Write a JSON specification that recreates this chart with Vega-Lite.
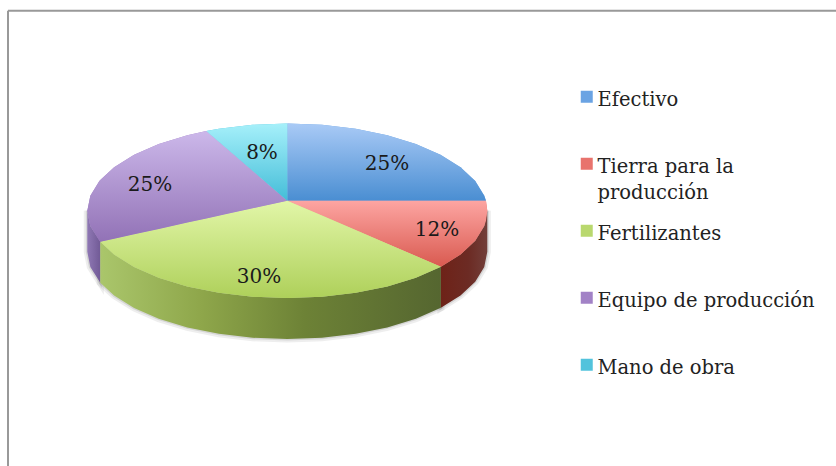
{
"$schema":"https://vega.github.io/schema/vega-lite/v6.json",
"width":836,"height":466,"padding":0,"autosize":{"type":"none"},"background":"white",
"view":{"stroke":null},
"datasets":{
"slices":[
{"name":"Efectivo","pct":"25%","u":49.85,"v":18.85},
{"name":"Tierra para la producción","pct":"12%","u":74.85,"v":-14.15},
{"name":"Fertilizantes","pct":"30%","u":-14.15,"v":-37.65},
{"name":"Equipo de producción","pct":"25%","u":-68.65,"v":8.35},
{"name":"Mano de obra","pct":"8%","u":-12.65,"v":24.35}],
"frame":[{"u":-139.65,"v":-132.65,"u2":-139.65,"v2":95},{"u":-139.65,"v":95,"u2":274.35,"v2":95}],
"top":[
{"name":"Efectivo","u":0,"v":38.6,"v2":0},{"name":"Efectivo","u":17.36,"v":37.94,"v2":0},{"name":"Efectivo","u":34.2,"v":35.97,"v2":0},{"name":"Efectivo","u":50,"v":32.75,"v2":0},{"name":"Efectivo","u":64.28,"v":28.39,"v2":0},{"name":"Efectivo","u":76.6,"v":23.01,"v2":0},{"name":"Efectivo","u":86.6,"v":16.78,"v2":0},{"name":"Efectivo","u":93.97,"v":9.88,"v2":0},{"name":"Efectivo","u":98.48,"v":2.53,"v2":0},{"name":"Efectivo","u":99.34,"v":0,"v2":0},
{"name":"Tierra para la producción","u":0,"v":0,"v2":0},{"name":"Tierra para la producción","u":76.8,"v":0,"v2":-32.99},{"name":"Tierra para la producción","u":86.6,"v":0,"v2":-26.88},{"name":"Tierra para la producción","u":93.97,"v":0,"v2":-19.98},{"name":"Tierra para la producción","u":98.48,"v":0,"v2":-12.63},{"name":"Tierra para la producción","u":99.34,"v":0,"v2":-10.07},{"name":"Tierra para la producción","u":100,"v":-5.05,"v2":-5.05},
{"name":"Fertilizantes","u":-93.5,"v":-20.5,"v2":-20.5},{"name":"Fertilizantes","u":-86.6,"v":-18.99,"v2":-26.88},{"name":"Fertilizantes","u":-76.6,"v":-16.79,"v2":-33.11},{"name":"Fertilizantes","u":-64.28,"v":-14.09,"v2":-38.49},{"name":"Fertilizantes","u":-50,"v":-10.96,"v2":-42.85},{"name":"Fertilizantes","u":-34.2,"v":-7.5,"v2":-46.07},{"name":"Fertilizantes","u":-17.36,"v":-3.81,"v2":-48.04},{"name":"Fertilizantes","u":0,"v":0,"v2":-48.7},{"name":"Fertilizantes","u":17.36,"v":-7.46,"v2":-48.04},{"name":"Fertilizantes","u":34.2,"v":-14.69,"v2":-46.07},{"name":"Fertilizantes","u":50,"v":-21.48,"v2":-42.85},{"name":"Fertilizantes","u":64.28,"v":-27.61,"v2":-38.49},{"name":"Fertilizantes","u":76.8,"v":-32.99,"v2":-32.99},
{"name":"Equipo de producción","u":-100,"v":-5.05,"v2":-5.05},{"name":"Equipo de producción","u":-98.48,"v":2.53,"v2":-12.63},{"name":"Equipo de producción","u":-93.97,"v":9.88,"v2":-19.98},{"name":"Equipo de producción","u":-93.5,"v":10.3,"v2":-20.5},{"name":"Equipo de producción","u":-86.6,"v":16.78,"v2":-18.99},{"name":"Equipo de producción","u":-76.6,"v":23.01,"v2":-16.79},{"name":"Equipo de producción","u":-64.28,"v":28.39,"v2":-14.09},{"name":"Equipo de producción","u":-50,"v":32.75,"v2":-10.96},{"name":"Equipo de producción","u":-40.5,"v":34.85,"v2":-8.88},{"name":"Equipo de producción","u":-30,"v":25.81,"v2":-6.58},{"name":"Equipo de producción","u":-15,"v":12.91,"v2":-3.29},{"name":"Equipo de producción","u":0,"v":0,"v2":0},
{"name":"Mano de obra","u":-40.5,"v":34.85,"v2":34.85},{"name":"Mano de obra","u":-34.2,"v":35.97,"v2":29.43},{"name":"Mano de obra","u":-17.36,"v":37.94,"v2":14.94},{"name":"Mano de obra","u":0,"v":38.6,"v2":0}],
"side":[
{"name":"Equipo de producción","u":-100,"v":-5.05,"v2":-25.55},{"name":"Equipo de producción","u":-98.48,"v":-12.63,"v2":-33.13},{"name":"Equipo de producción","u":-93.5,"v":-20.5,"v2":-41},
{"name":"Fertilizantes","u":-93.5,"v":-20.5,"v2":-41},{"name":"Fertilizantes","u":-86.6,"v":-26.88,"v2":-47.38},{"name":"Fertilizantes","u":-76.6,"v":-33.11,"v2":-53.61},{"name":"Fertilizantes","u":-64.28,"v":-38.49,"v2":-58.99},{"name":"Fertilizantes","u":-50,"v":-42.85,"v2":-63.35},{"name":"Fertilizantes","u":-34.2,"v":-46.07,"v2":-66.57},{"name":"Fertilizantes","u":-17.36,"v":-48.04,"v2":-68.54},{"name":"Fertilizantes","u":0,"v":-48.7,"v2":-69.2},{"name":"Fertilizantes","u":17.36,"v":-48.04,"v2":-68.54},{"name":"Fertilizantes","u":34.2,"v":-46.07,"v2":-66.57},{"name":"Fertilizantes","u":50,"v":-42.85,"v2":-63.35},{"name":"Fertilizantes","u":64.28,"v":-38.49,"v2":-58.99},{"name":"Fertilizantes","u":76.8,"v":-32.99,"v2":-53.49},
{"name":"Tierra para la producción","u":76.8,"v":-32.99,"v2":-53.49},{"name":"Tierra para la producción","u":86.6,"v":-26.88,"v2":-47.38},{"name":"Tierra para la producción","u":93.97,"v":-19.98,"v2":-40.48},{"name":"Tierra para la producción","u":98.48,"v":-12.63,"v2":-33.13},{"name":"Tierra para la producción","u":100,"v":-5.05,"v2":-25.55}]
},
"encoding":{
"x":{"field":"u","type":"quantitative","scale":{"domain":[-143.65,274.35],"nice":false,"zero":false},"axis":null},
"y":{"field":"v","type":"quantitative","scale":{"domain":[-132.65,100.35],"nice":false,"zero":false},"axis":null},
"y2":{"field":"v2"}
},
"layer":[
{"data":{"name":"frame"},"mark":{"type":"rule","stroke":"#999999","strokeWidth":2},"encoding":{"x2":{"field":"u2"}}},
{"data":{"name":"side"},"mark":{"type":"area","fill":"#777777","stroke":"#777777","strokeWidth":7,"opacity":0.12},"encoding":{"detail":{"field":"name"}}},
{"data":{"name":"side"},"mark":{"type":"area","fill":"#777777","stroke":"#777777","strokeWidth":3,"opacity":0.2},"encoding":{"detail":{"field":"name"}}},
{"data":{"name":"top"},"mark":{"type":"area"},"encoding":{"color":{"field":"name","type":"nominal","sort":null,"scale":{"domain":["Efectivo","Tierra para la producción","Fertilizantes","Equipo de producción","Mano de obra"],"range":["#6aa3e3","#e8736d","#b9d86e","#a282c6","#52c3dc"]},
"legend":{"title":null,"orient":"none","legendX":577,"legendY":87,"padding":0,"symbolType":"square","symbolSize":144,"symbolStrokeWidth":0,"labelFont":"DejaVu Serif","labelFontSize":19.5,"labelColor":"#222222","labelLimit":300,"labelOffset":1,"rowPadding":18,"gridAlign":"all","columns":1,
"labelExpr":"datum.label == 'Tierra para la producción' ? ['Tierra para la','producción'] : datum.label",
"encoding":{"labels":{"lineHeight":{"value":26},"dy":{"value":3}},
"symbols":{"fill":[
{"test":"datum.value == 'Efectivo'","value":{"gradient":"linear","x1":0,"y1":0,"x2":0,"y2":1,"stops":[{"offset":0,"color":"#8fbcf0"},{"offset":1,"color":"#4a8ed2"}]}},
{"test":"datum.value == 'Tierra para la producción'","value":{"gradient":"linear","x1":0,"y1":0,"x2":0,"y2":1,"stops":[{"offset":0,"color":"#f59a96"},{"offset":1,"color":"#d95a50"}]}},
{"test":"datum.value == 'Fertilizantes'","value":{"gradient":"linear","x1":0,"y1":0,"x2":0,"y2":1,"stops":[{"offset":0,"color":"#d4ec92"},{"offset":1,"color":"#aed05a"}]}},
{"test":"datum.value == 'Equipo de producción'","value":{"gradient":"linear","x1":0,"y1":0,"x2":0,"y2":1,"stops":[{"offset":0,"color":"#bda5dc"},{"offset":1,"color":"#9272b6"}]}},
{"value":{"gradient":"linear","x1":0,"y1":0,"x2":0,"y2":1,"stops":[{"offset":0,"color":"#86e0f0"},{"offset":1,"color":"#44bdd8"}]}}]}}}}}},
{"data":{"name":"side"},"transform":[{"filter":"datum.name == 'Equipo de producción'"}],"mark":{"type":"area","fill":{"gradient":"linear","x1":0,"y1":0,"x2":1,"y2":0,"stops":[{"offset":0,"color":"#8f78b4"},{"offset":1,"color":"#715a96"}]}}},
{"data":{"name":"side"},"transform":[{"filter":"datum.name == 'Fertilizantes'"}],"mark":{"type":"area","fill":{"gradient":"linear","x1":0,"y1":0,"x2":1,"y2":0,"stops":[{"offset":0,"color":"#aac66b"},{"offset":0.3,"color":"#8ea64a"},{"offset":0.6,"color":"#6d8236"},{"offset":1,"color":"#556630"}]}}},
{"data":{"name":"side"},"transform":[{"filter":"datum.name == 'Tierra para la producción'"}],"mark":{"type":"area","fill":{"gradient":"linear","x1":0,"y1":0,"x2":1,"y2":0,"stops":[{"offset":0,"color":"#6e2218"},{"offset":0.6,"color":"#6c2b24"},{"offset":1,"color":"#723f3a"}]}}},
{"data":{"name":"top"},"transform":[{"filter":"datum.name == 'Efectivo'"}],"mark":{"type":"area","fill":{"gradient":"linear","x1":0,"y1":0,"x2":0,"y2":1,"stops":[{"offset":0,"color":"#a9caf6"},{"offset":1,"color":"#4a8ed2"}]}}},
{"data":{"name":"top"},"transform":[{"filter":"datum.name == 'Tierra para la producción'"}],"mark":{"type":"area","fill":{"gradient":"linear","x1":0,"y1":0,"x2":0,"y2":1,"stops":[{"offset":0,"color":"#fda5a2"},{"offset":1,"color":"#d95a50"}]}}},
{"data":{"name":"top"},"transform":[{"filter":"datum.name == 'Fertilizantes'"}],"mark":{"type":"area","fill":{"gradient":"linear","x1":0,"y1":0,"x2":0,"y2":1,"stops":[{"offset":0,"color":"#e2f6a8"},{"offset":1,"color":"#aed05a"}]}}},
{"data":{"name":"top"},"transform":[{"filter":"datum.name == 'Equipo de producción'"}],"mark":{"type":"area","fill":{"gradient":"linear","x1":0,"y1":0,"x2":0,"y2":1,"stops":[{"offset":0,"color":"#ccb8ea"},{"offset":1,"color":"#9272b6"}]}}},
{"data":{"name":"top"},"transform":[{"filter":"datum.name == 'Mano de obra'"}],"mark":{"type":"area","fill":{"gradient":"linear","x1":0,"y1":0,"x2":0,"y2":1,"stops":[{"offset":0,"color":"#a6f0fa"},{"offset":1,"color":"#44bdd8"}]}}},
{"data":{"name":"slices"},"mark":{"type":"text","font":"DejaVu Serif","fontSize":20,"color":"#1a1a1a","dy":1},"encoding":{"text":{"field":"pct"},"y2":null}}
]
}
